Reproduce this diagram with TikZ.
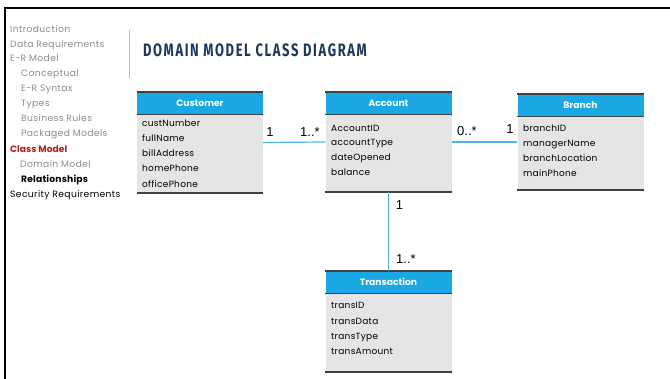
\documentclass[tikz,border=0pt]{standalone}
\usepackage{fontspec}
\setmainfont{Poppins}
\newfontfamily\multfont{Liberation Sans}
\newfontfamily\titlefont[FakeStretch=0.72, LetterSpace=9]{Fira Sans}

\newlength{\du}
\setlength{\du}{1pt}

\definecolor{sidegrey}{rgb}{0.550000, 0.550000, 0.550000}
\definecolor{classred}{rgb}{0.700000, 0.120000, 0.120000}
\definecolor{titlenavy}{rgb}{0.110000, 0.220000, 0.360000}
\definecolor{headblue}{rgb}{0.100000, 0.660000, 0.890000}
\definecolor{bodygrey}{rgb}{0.900000, 0.900000, 0.900000}
\definecolor{edgegrey}{rgb}{0.250000, 0.250000, 0.250000}
\definecolor{linkblue}{rgb}{0.300000, 0.720000, 0.880000}
\definecolor{ruleblue}{rgb}{0.550000, 0.780000, 0.920000}

\tikzset{
  sideitem/.style={anchor=west, inner sep=0pt, text height=0.95em, text depth=0.05em,
    font=\fontsize{9.2}{10}\selectfont\addfontfeature{LetterSpace=4}, text=sidegrey},
  classbox/.style={rectangle, fill=bodygrey, inner sep=0pt, minimum width=126\du},
  classhead/.style={rectangle, fill=headblue, inner sep=0pt, minimum width=126\du, minimum height=22\du,
    anchor=north, text=white, font=\fontsize{9.2}{10}\selectfont\bfseries},
  attr/.style={anchor=west, inner sep=0pt, text height=0.95em, text depth=0.05em,
    font=\fontsize{9}{10}\selectfont\addfontfeature{LetterSpace=3}, text=black},
  mult/.style={inner sep=0pt, font=\multfont\fontsize{13}{14}\selectfont, text=black},
  edgerule/.style={draw=edgegrey, line width=1.6\du},
  headrule/.style={draw=edgegrey, line width=0.6\du},
  link/.style={draw=linkblue, line width=1.2\du}
}

\begin{document}
\begin{tikzpicture}
\pgftransformxscale{1.000000}
\pgftransformyscale{-1.000000}
\useasboundingbox (0\du,0\du) rectangle (670\du,379\du);
\fill[white] (0\du,0\du) rectangle (670\du,379\du);
% frame
\draw[black, line width=2\du] (5\du,379\du)--(5\du,8\du)--(670\du,8\du);
% side menu
\node[sideitem] (intro) at (10\du,28\du){Introduction};
\node[sideitem] (datareq) at (10\du,43\du){Data Requirements};
\node[sideitem] (ermodel) at (10\du,57.5\du){E-R Model};
\node[sideitem] (conceptual) at (21\du,72.5\du){Conceptual};
\node[sideitem] (ersyntax) at (21\du,87.5\du){E-R Syntax};
\node[sideitem] (types) at (21\du,102.5\du){Types};
\node[sideitem] (busrules) at (21\du,117.5\du){Business Rules};
\node[sideitem] (packaged) at (21\du,132.5\du){Packaged Models};
\node[sideitem, text=classred, font=\fontsize{9.2}{10}\selectfont\bfseries] (classmodel) at (10\du,148\du){Class Model};
\node[sideitem] (domain) at (20\du,163\du){Domain Model};
\node[sideitem, text=black, font=\fontsize{9.2}{10}\selectfont\bfseries\addfontfeature{LetterSpace=2}] (relations) at (21\du,178\du){Relationships};
\node[sideitem, text=black] (security) at (10\du,193\du){Security Requirements};
% title
\draw[ruleblue, line width=1\du] (129\du,30\du)--(129\du,78\du);
\node[anchor=west, inner sep=0pt, text=titlenavy, font=\titlefont\fontsize{18}{19}\selectfont\bfseries] (title) at (143\du,50\du){DOMAIN MODEL CLASS DIAGRAM};
% Customer
\node[classbox, minimum height=101\du] (customer) at (200\du,142.5\du){};
\node[classhead] (customerhead) at (customer.north){Customer};
\draw[headrule] (customerhead.south west)--(customerhead.south east);
\draw[edgerule] (customer.north west)--(customer.north east);
\draw[edgerule] (customer.south west)--(customer.south east);
\node[attr] at (142\du,122\du){custNumber};
\node[attr] at (142\du,137\du){fullName};
\node[attr] at (142\du,152\du){billAddress};
\node[attr] at (142\du,167.5\du){homePhone};
\node[attr] at (142\du,183\du){officePhone};
% Account
\node[classbox, minimum height=100\du] (account) at (388.5\du,142\du){};
\node[classhead] (accounthead) at (account.north){Account};
\draw[headrule] (accounthead.south west)--(accounthead.south east);
\draw[edgerule] (account.north west)--(account.north east);
\draw[edgerule] (account.south west)--(account.south east);
\node[attr] at (331\du,127\du){AccountID};
\node[attr] at (331\du,141.5\du){accountType};
\node[attr] at (331\du,156\du){dateOpened};
\node[attr] at (331\du,171\du){balance};
% Branch
\node[classbox, minimum height=96\du] (branch) at (580.5\du,142\du){};
\node[classhead] (branchhead) at (branch.north){Branch};
\draw[headrule] (branchhead.south west)--(branchhead.south east);
\draw[edgerule] (branch.north west)--(branch.north east);
\draw[edgerule] (branch.south west)--(branch.south east);
\node[attr] at (523\du,127\du){branchID};
\node[attr] at (523\du,142\du){managerName};
\node[attr] at (523\du,157\du){branchLocation};
\node[attr] at (523\du,172\du){mainPhone};
% Transaction
\node[classbox, minimum height=101\du] (transaction) at (388.5\du,321.5\du){};
\node[classhead] (transactionhead) at (transaction.north){Transaction};
\draw[headrule] (transactionhead.south west)--(transactionhead.south east);
\draw[edgerule] (transaction.north west)--(transaction.north east);
\draw[edgerule] (transaction.south west)--(transaction.south east);
\node[attr] at (331\du,304\du){transID};
\node[attr] at (331\du,320\du){transData};
\node[attr] at (331\du,335\du){transType};
\node[attr] at (331\du,350\du){transAmount};
% links
\draw[link] (customer.east)--(account.west);
\draw[link] (account.east)--(branch.west);
\draw[link] (account.south)--(transactionhead.north);
\node[mult] (custone) at (270\du,132\du){1};
\node[mult] (custmany) at (310\du,132\du){1..*};
\node[mult] (branchmany) at (467\du,131\du){0..*};
\node[mult] (branchone) at (510\du,129\du){1};
\node[mult] (transone) at (399.5\du,205\du){1};
\node[mult] (transmany) at (406\du,259\du){1..*};
\end{tikzpicture}
\end{document}
